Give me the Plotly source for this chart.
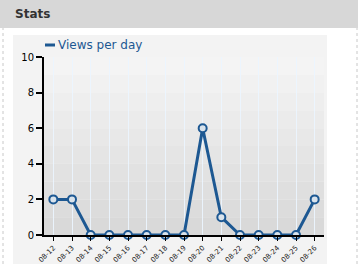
import plotly.graph_objects as go

title_text = "Stats"
series_name = "Views per day"
categories = ["08-12", "08-13", "08-14", "08-15", "08-16", "08-17", "08-18", "08-19",
              "08-20", "08-21", "08-22", "08-23", "08-24", "08-25", "08-26"]
views = [2, 2, 0, 0, 0, 0, 0, 0, 6, 1, 0, 0, 0, 0, 2]
y_ticks = [0, 2, 4, 6, 8, 10]

W, H = 364, 264
L, R, T, B = 44, 40, 57, 29
PW = W - L - R
PH = H - T - B

def px(x):
    return (x - L) / PW

def py(y):
    return (H - B - y) / PH

BLUE = "#1d5892"

fig = go.Figure()
fig.add_trace(go.Scatter(
    x=categories, y=views, mode="lines+markers", name=series_name,
    line=dict(color=BLUE, width=3),
    marker=dict(symbol="circle", size=8, color="#d9e3ec", line=dict(color=BLUE, width=2)),
    showlegend=False, cliponaxis=False,
))

shapes = []
# header band
shapes.append(dict(type="rect", xref="paper", yref="paper", x0=px(0), x1=px(358), y0=py(28), y1=py(0),
                   fillcolor="#d7d7d7", line=dict(width=0), layer="below"))
# panel borders
shapes.append(dict(type="line", xref="paper", yref="paper", x0=px(357), x1=px(357), y0=py(264), y1=py(28),
                   line=dict(color="#c8c8c8", width=1, dash="dot"), layer="below"))
shapes.append(dict(type="line", xref="paper", yref="paper", x0=px(3), x1=px(3), y0=py(264), y1=py(28),
                   line=dict(color="#c8c8c8", width=1, dash="dot"), layer="below"))
# content area light dotted
shapes.append(dict(type="rect", xref="paper", yref="paper", x0=px(13), x1=px(327), y0=py(264), y1=py(35),
                   fillcolor="#f3f3f3", line=dict(width=0), layer="below"))
# plot area gradient (bottom darker)
steps = 10
for i in range(steps):
    y0 = 235 - PH * i / steps
    y1 = 235 - PH * (i + 1) / steps
    g = int(0xd9 + (0xf4 - 0xd9) * i / (steps - 1))
    shapes.append(dict(type="rect", xref="paper", yref="paper", x0=0, x1=1, y0=py(y0), y1=py(y1),
                       fillcolor=f"rgb({g},{g},{g})", line=dict(width=0), layer="below"))
# legend sample line
shapes.append(dict(type="line", xref="paper", yref="paper", x0=px(45), x1=px(55), y0=py(45), y1=py(45),
                   line=dict(color=BLUE, width=3)))

annotations = [
    dict(text=f"<b>{title_text}</b>", xref="paper", yref="paper", x=px(13), y=py(14),
         xanchor="left", yanchor="middle", showarrow=False,
         font=dict(family="DejaVu Sans", size=12, color="#333333")),
    dict(text=series_name, xref="paper", yref="paper", x=px(56), y=py(45),
         xanchor="left", yanchor="middle", showarrow=False,
         font=dict(family="DejaVu Sans", size=12, color=BLUE)),
]

fig.update_layout(
    width=W, height=H, margin=dict(l=L, r=R, t=T, b=B, pad=0, autoexpand=False),
    paper_bgcolor="white", plot_bgcolor="rgba(0,0,0,0)",
    shapes=shapes, annotations=annotations, showlegend=False,
    font=dict(family="DejaVu Sans", color="black"),
)
fig.update_xaxes(
    type="category", range=[-0.5, len(categories) - 0.5], automargin=False,
    showgrid=True, gridcolor="rgba(235,245,255,0.9)", gridwidth=1,
    showline=True, linecolor="black", linewidth=2,
    ticks="outside", ticklen=4, tickcolor="black", tickwidth=1,
    tickangle=-45, tickfont=dict(size=7, color="#222222"), zeroline=False,
)
fig.update_yaxes(
    range=[0, 10], tickvals=y_ticks, showgrid=False, automargin=False,
    showline=True, linecolor="black", linewidth=2,
    ticks="outside", ticklen=6, tickcolor="black", tickwidth=2,
    tickfont=dict(size=10, color="black"), zeroline=False,
)

fig.write_html("out.html")
